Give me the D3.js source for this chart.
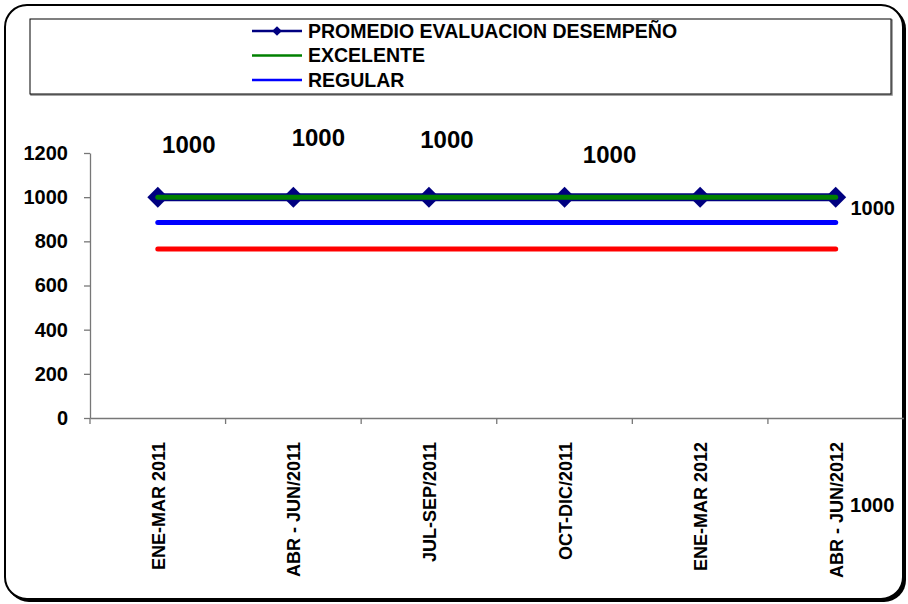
<!DOCTYPE html>
<html>
<head>
<meta charset="utf-8">
<script src="https://cdn.jsdelivr.net/npm/d3@7"></script>
<style>
  body { margin:0; background:#fff; }
  text { font-family: "Liberation Sans", Arial, sans-serif; font-weight:bold; }
</style>
</head>
<body>
<div id="plot"></div>
<script>
//Set Height and Width Vars;
const w=908;
const h=604;

//Data;
const categories = ["ENE-MAR 2011","ABR - JUN/2011","JUL-SEP/2011","OCT-DIC/2011","ENE-MAR 2012","ABR - JUN/2012"];
const promedio = [1000,1000,1000,1000,1000,1000];
const excelente = [1000,1000,1000,1000,1000,1000];
const regular = [885,885,885,885,885,885];
const deficiente = [765,765,765,765,765,765];
const yTicks = [0,200,400,600,800,1000,1200];

//Label placement (pixels from point) and sizes;
const labelDx = [31,25,18,45,172,37];
const labelDy = [-44,-51,-49,-34,315,18];
const labelSize = [24,24,24,24,20,20];

//Initialize SVG;
const svg = d3.select("#plot")
              .append("svg")
                .attr("width", w)
                .attr("height", h);

//Outer Border;
svg.append("rect")
   .attr("x",7).attr("y",7)
   .attr("width",899).attr("height",595)
   .attr("rx",22)
   .attr("fill","#000");

svg.append("rect")
   .attr("x",5).attr("y",5)
   .attr("width",898).attr("height",594)
   .attr("rx",22)
   .attr("fill","#fff")
   .attr("stroke","#000")
   .attr("stroke-width",2);

//Set Scales;
let xScale = d3.scaleBand()
               .domain(categories)
               .range([90,903.5]);

let yScale = d3.scaleLinear()
               .domain([0,1200])
               .range([418,153]);

const cx = function(i){ return xScale(categories[i]) + xScale.bandwidth()/2; };

//Y Axis;
let yAxis = d3.axisLeft(yScale)
              .tickValues(yTicks)
              .tickFormat(d3.format("d"))
              .tickSize(6)
              .tickPadding(16)
              .tickSizeOuter(0);

let gy = svg.append("g")
   .attr("transform","translate(90,0)")
   .call(yAxis);
gy.select(".domain").attr("stroke","#777").attr("stroke-width",1.3);
gy.selectAll(".tick line").attr("stroke","#777").attr("stroke-width",1.3);
gy.selectAll(".tick text")
  .attr("font-size","20px")
  .attr("fill","#000")
  .attr("font-family","Liberation Sans, Arial, sans-serif");

//X Axis;
let xAxis = d3.axisBottom(xScale)
              .tickSize(0)
              .tickFormat("");

let gx = svg.append("g")
   .attr("transform","translate(0,418)")
   .call(xAxis);
gx.select(".domain").attr("stroke","#777").attr("stroke-width",1.3);

//Tick marks between categories;
gx.selectAll(".sep")
  .data(categories)
  .enter()
  .append("line")
    .attr("x1",function(d){ return xScale(d); })
    .attr("x2",function(d){ return xScale(d); })
    .attr("y1",0).attr("y2",6)
    .attr("stroke","#777").attr("stroke-width",1.3);

//X Labels;
svg.append("g")
   .selectAll("text")
   .data(categories)
   .enter()
   .append("text")
     .text(function(d){ return d; })
     .attr("transform",function(d,i){ return "translate(" + (cx(i)+7) + ",442) rotate(-90)"; })
     .attr("text-anchor","end")
     .attr("font-size","18px")
     .attr("fill","#000");

//Line generator;
const line = d3.line()
               .x(function(d,i){ return cx(i); })
               .y(function(d){ return yScale(d); });

//Draw Lines;
svg.append("path")
   .datum(deficiente)
   .attr("d",line)
   .attr("fill","none")
   .attr("stroke","#ff0000")
   .attr("stroke-width",5)
   .attr("stroke-linecap","round");

svg.append("path")
   .datum(regular)
   .attr("d",line)
   .attr("fill","none")
   .attr("stroke","#0000ff")
   .attr("stroke-width",5)
   .attr("stroke-linecap","round");

svg.append("path")
   .datum(promedio)
   .attr("d",line)
   .attr("fill","none")
   .attr("stroke","#000080")
   .attr("stroke-width",8);

//Markers;
const diamond = d3.symbol().type(d3.symbolDiamond2).size(280);
svg.append("g")
   .selectAll("path")
   .data(promedio)
   .enter()
   .append("path")
     .attr("d",diamond)
     .attr("transform",function(d,i){ return "translate(" + cx(i) + "," + yScale(d) + ")"; })
     .attr("fill","#000080");

svg.append("path")
   .datum(excelente)
   .attr("d",line)
   .attr("fill","none")
   .attr("stroke","#008000")
   .attr("stroke-width",5)
   .attr("stroke-linecap","round");

//Data Labels;
svg.append("g")
   .selectAll("text")
   .data(promedio)
   .enter()
   .append("text")
     .text(function(d){ return d; })
     .attr("x",function(d,i){ return cx(i) + labelDx[i]; })
     .attr("y",function(d,i){ return yScale(d) + labelDy[i]; })
     .attr("text-anchor","middle")
     .attr("font-size",function(d,i){ return labelSize[i] + "px"; })
     .attr("fill","#000");

//Legend;
const legendNames = ["PROMEDIO EVALUACION DESEMPEÑO","EXCELENTE","REGULAR"];
const legendColors = ["#000080","#008000","#0000ff"];

svg.append("rect")
   .attr("x",31).attr("y",20)
   .attr("width",861).attr("height",75)
   .attr("fill","none")
   .attr("stroke","#888")
   .attr("stroke-width",1.5);

svg.append("rect")
   .attr("x",30).attr("y",19)
   .attr("width",861).attr("height",75)
   .attr("fill","#fff")
   .attr("stroke","#000")
   .attr("stroke-width",1);

let leg = svg.append("g")
   .selectAll("g")
   .data(legendNames)
   .enter()
   .append("g")
     .attr("transform",function(d,i){ return "translate(252," + (31 + i*24.5) + ")"; });

leg.append("line")
   .attr("x1",0).attr("x2",50)
   .attr("y1",0).attr("y2",0)
   .attr("stroke",function(d,i){ return legendColors[i]; })
   .attr("stroke-width",2.5);

leg.filter(function(d,i){ return i===0; })
   .append("path")
   .attr("d",d3.symbol().type(d3.symbolDiamond2).size(60))
   .attr("transform","translate(25,0)")
   .attr("fill","#000080");

leg.append("text")
   .text(function(d){ return d; })
   .attr("x",56)
   .attr("y",6.5)
   .attr("font-size","19.5px")
   .attr("fill","#000");
</script>
</body>
</html>
